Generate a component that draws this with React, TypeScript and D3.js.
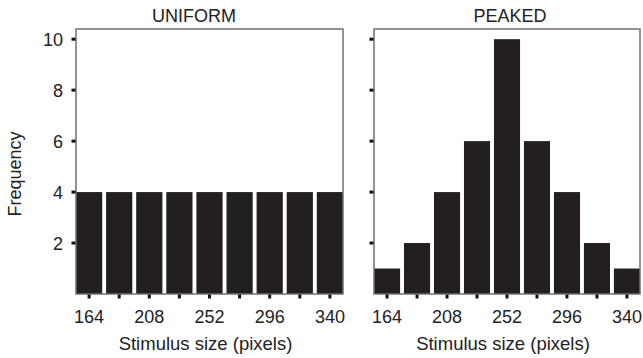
import React from 'react';
import * as d3 from 'd3';

// stimulus sizes (bar categories) and the frequencies per condition
const sizes = [164, 186, 208, 230, 252, 274, 296, 318, 340];
const uniformFreq = [4, 4, 4, 4, 4, 4, 4, 4, 4];
const peakedFreq = [1, 2, 4, 6, 10, 6, 4, 2, 1];
const labelledSizes = [164, 208, 252, 296, 340];
const yTicks = [2, 4, 6, 8, 10];

const width = 643, height = 358;
const top = 29, bottom = 294;
const font = '"Liberation Sans", Arial, sans-serif';
const barColor = '#231f20';
const frameColor = '#707070';
const fs = 18;

const panels = [
    { title: 'UNIFORM', values: uniformFreq, left: 76, right: 343, titleX: 194, showLabels: true },
    { title: 'PEAKED', values: peakedFreq, left: 374, right: 640, titleX: 510, showLabels: false },
];

// y scale shared by both panels
const yScale = d3.scaleLinear().domain([0, 10.4]).range([bottom, top]);

function Panel({ p }: { p: typeof panels[0] }) {
    const xScale = d3.scaleBand<number>().domain(sizes)
        .range([p.left, p.right]).paddingInner(0.13).paddingOuter(0);
    const bw = xScale.bandwidth();
    return (
        <g>
            <text x={p.titleX} y={22} textAnchor="middle" fontSize={fs} fontFamily={font} fill="#222">{p.title}</text>
            {/* bars */}
            {p.values.map((v, i) => (
                <rect key={i} x={xScale(sizes[i])} y={yScale(v)} width={bw}
                    height={yScale(0) - yScale(v)} fill={barColor} />
            ))}
            {/* frame */}
            <rect x={p.left} y={top} width={p.right - p.left} height={bottom - top}
                fill="none" stroke={frameColor} strokeWidth={1.5} />
            {/* y ticks */}
            {yTicks.map(t => (
                <g key={t}>
                    <rect x={p.left - 4.5} y={yScale(t) - 1.5} width={4} height={3} fill="#111" />
                    {p.showLabels &&
                        <text x={p.left - 13} y={yScale(t) + 6.5} textAnchor="end" fontSize={fs}
                            fontFamily={font} fill="#222">{t}</text>}
                </g>
            ))}
            {/* x ticks */}
            {sizes.map(s => (
                <rect key={s} x={(xScale(s) as number) + bw / 2 - 1.5} y={bottom + 0.5} width={3} height={4} fill="#111" />
            ))}
            {labelledSizes.map(s => (
                <text key={s} x={(xScale(s) as number) + bw / 2} y={323} textAnchor="middle"
                    fontSize={fs} fontFamily={font} fill="#222">{s}</text>
            ))}
            <text x={(p.left + p.right) / 2 - 4} y={350} textAnchor="middle" fontSize={18.5}
                fontFamily={font} fill="#222">Stimulus size (pixels)</text>
        </g>
    );
}

export default function App() {
    return (
        <svg width={width} height={height} viewBox={`0 0 ${width} ${height}`}
            style={{ position: 'absolute', left: 0, top: 0, background: '#fff' }}>
            {panels.map(p => <Panel key={p.title} p={p} />)}
            <text transform={`translate(21,174) rotate(-90)`} textAnchor="middle"
                fontSize={fs} fontFamily={font} fill="#222">Frequency</text>
        </svg>
    );
}
